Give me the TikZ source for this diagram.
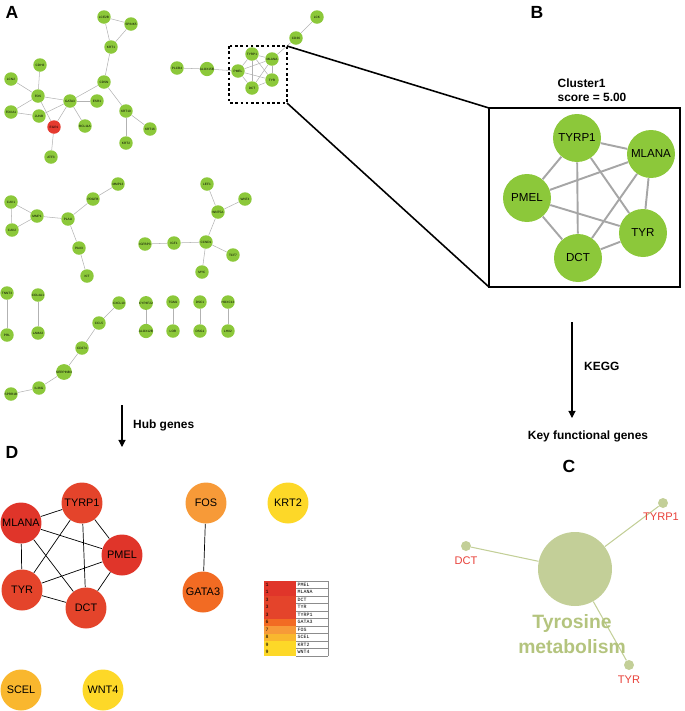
\documentclass[tikz,border=0pt]{standalone}
\usepackage{fontspec}
\setmainfont{Liberation Sans}
\newfontfamily\tabfont{Liberation Mono}
\usetikzlibrary{arrows.meta}

\definecolor{agreen}{HTML}{8CC83A}
\definecolor{anred}{HTML}{E53A2F}
\definecolor{hred}{HTML}{E0352A}
\definecolor{hredb}{HTML}{E4442B}
\definecolor{horange}{HTML}{F26B23}
\definecolor{hlorange}{HTML}{F79A38}
\definecolor{hamber}{HTML}{F9B72E}
\definecolor{hyellow}{HTML}{FDD828}
\definecolor{kegg}{HTML}{C3CF98}
\definecolor{keggtext}{HTML}{B4C47E}
\definecolor{keggred}{HTML}{E8413A}

\tikzset{
  gnode/.style={circle, fill=agreen, inner sep=0pt, minimum size=0.27cm, font=\fontsize{1.8}{2}\selectfont},
  cnode/.style={circle, fill=agreen, inner sep=0pt, minimum size=0.96cm, font=\fontsize{6.6}{8}\selectfont},
  hnode/.style={circle, inner sep=0pt, minimum size=0.82cm, font=\fontsize{6.2}{7}\selectfont},
  gedge/.style={draw=black!30, line width=0.3pt},
  cedge/.style={draw=black!35, line width=1.1pt},
  hedge/.style={draw=black, line width=0.4pt},
  kedge/.style={draw=kegg, line width=0.6pt},
  kdot/.style={circle, fill=kegg, inner sep=0pt, minimum size=0.2cm},
  klabel/.style={text=keggred, font=\fontsize{6.3}{7}\selectfont},
  plabel/.style={font=\fontsize{10}{12}\selectfont\bfseries},
  blabel/.style={font=\fontsize{6.8}{8}\selectfont\bfseries},
  tabtext/.style={inner sep=0.5pt, font=\tabfont\fontsize{2.8}{3}\selectfont},
  flow/.style={line width=0.6pt, -{Triangle[length=4pt,width=4pt]}}
}

\begin{document}
\begin{tikzpicture}[x=0.02cm,y=-0.02cm]
\useasboundingbox (0,0) rectangle (685,711);

% panel letters
\node[plabel] (labA) at (12,12) {A};
\node[plabel] (labB) at (537,12) {B};
\node[plabel] (labC) at (569,466) {C};
\node[plabel] (labD) at (12,452) {D};

% ---------- A: whole network ----------
\foreach \n/\x/\y/\t in {a1/104/17/LCE2B, a2/131/24/SPINK5, a3/111/47/KRT1, a4/104/82/CDSN,
    a5/40/65/CDH3, a6/11/79/LCN2, a7/38/96/FOS, a8/70/101/GATA3, a9/97/101/ESR1,
    a10/11/112/FOXA1, a11/39/116/JUNB, a13/85/126/BCL11A, a14/51/157/ATF3,
    a15/126/111/KRT10, a16/150/129/KRT16, a17/126/143/KRT2,
    b1/177/68/PLCB4, b2/207/69/ALOX15B, b3/296/38/CD36, b4/317/17/LCK,
    d1/11/202/CAV1, d2/12/230/CAV2, d3/37/216/MMP1, d4/68/219/PLAU, d5/93/199/PDGFB,
    d6/118/184/MMP13, d7/79/248/PAX3, d8/87/276/KIT,
    e1/145/244/IGFBP3, e2/174/243/IGF1, e3/206/242/CCND1, e4/218/212/WNT5A,
    e5/207/184/LEF1, e6/245/199/WNT4, e7/233/255/TCF7, e8/202/272/MYC,
    f1/7/293/TNNT3, f2/7/335/PRL, g1/38/295/COL4A1, g2/38/333/LAMA3,
    h1/119/303/CXCL10, h2/99/323/CCL5, h3/82/348/CD274, h4/64/372/SERPINB3,
    h5/39/388/IL36G, h6/11/394/SPRR1B,
    p1/146/303/CYP4F22, p2/146/331/ALOX12B, q1/173/302/TGM1, q2/173/331/LOR,
    r1/200/302/DSC1, r2/200/331/DSG1, s1/228/302/HOXC13, s2/228/331/LHX2}
  \node[gnode] (\n) at (\x,\y) {\t};
\node[gnode, fill=anred] (a12) at (54,127) {EGR1};

% cluster inside A
\node[gnode] (aTYRP1) at (252,54) {TYRP1};
\node[gnode] (aMLANA) at (272,59) {MLANA};
\node[gnode] (aPMEL) at (238,71) {PMEL};
\node[gnode] (aTYR) at (272,80) {TYR};
\node[gnode] (aDCT) at (252,88) {DCT};

\foreach \u/\v in {a1/a2, a1/a3, a2/a3, a3/a4, a5/a7, a6/a7, a7/a10, a10/a11, a7/a8,
    a7/a12, a8/a12, a8/a11, a8/a9, a8/a13, a8/a4, a4/a15, a15/a16, a15/a17, a12/a14,
    b1/b2, b2/aPMEL, b4/b3, b3/aMLANA,
    d1/d2, d1/d3, d2/d3, d3/d4, d4/d5, d5/d6, d4/d7, d7/d8,
    e1/e2, e2/e3, e3/e4, e4/e5, e4/e6, e3/e7, e3/e8,
    f1/f2, g1/g2, h1/h2, h2/h3, h3/h4, h4/h5, h5/h6, p1/p2, q1/q2, r1/r2, s1/s2,
    aTYRP1/aMLANA, aTYRP1/aPMEL, aTYRP1/aTYR, aTYRP1/aDCT, aMLANA/aPMEL,
    aMLANA/aTYR, aMLANA/aDCT, aPMEL/aTYR, aPMEL/aDCT, aTYR/aDCT}
  \draw[gedge] (\u) -- (\v);

% zoom box and its rays
\coordinate (zoomNW) at (229,46);
\coordinate (zoomSE) at (287,103);
\coordinate (zoomNE) at (287,46);
\draw[dashed, line width=0.8pt, dash pattern=on 1.5pt off 1.5pt] (zoomNW) rectangle (zoomSE);
\coordinate (clusNW) at (489,108);
\coordinate (clusSE) at (680,287);
\coordinate (clusSW) at (489,287);
\draw[line width=0.9pt] (clusNW) rectangle (clusSE);
\draw[line width=0.9pt] (zoomNE) -- (clusNW);
\draw[line width=0.9pt] (zoomSE) -- (clusSW);

% ---------- B: cluster 1 ----------
\node[blabel, align=left] (clustitle) at (592,90) {Cluster1\\score = 5.00};
\node[cnode] (bTYRP1) at (577,138) {TYRP1};
\node[cnode] (bMLANA) at (651,154) {MLANA};
\node[cnode] (bPMEL) at (527,198) {PMEL};
\node[cnode] (bTYR) at (643,233) {TYR};
\node[cnode] (bDCT) at (578,258) {DCT};
\foreach \u/\v in {TYRP1/MLANA, TYRP1/PMEL, TYRP1/TYR, TYRP1/DCT, MLANA/PMEL,
    MLANA/TYR, MLANA/DCT, PMEL/TYR, PMEL/DCT, TYR/DCT}
  \draw[cedge] (b\u) -- (b\v);

% ---------- arrows ----------
\coordinate (hubtop) at (122,405);
\coordinate (hubtip) at (122,447);
\draw[flow] (hubtop) -- (hubtip);
\node[blabel, anchor=west] (hubtext) at (127,425) {Hub genes};

\coordinate (keggtop) at (572,322);
\coordinate (keggtip) at (572,418);
\draw[flow] (keggtop) -- (keggtip);
\node[blabel, anchor=west] (keggtext) at (578,366) {KEGG};
\node[blabel] (keytext) at (588,436) {Key functional genes};

% ---------- C: KEGG pathway ----------
\node[circle, fill=kegg, inner sep=0pt, minimum size=1.48cm] (tyrmet) at (575,569) {};
\node[kdot] (cTYRP1) at (663,503) {};
\node[kdot] (cDCT) at (466,546) {};
\node[kdot] (cTYR) at (629,665) {};
\foreach \g in {TYRP1, DCT, TYR}
  \draw[kedge] (tyrmet) -- (c\g);
\node[klabel] (lTYRP1) at (661,517) {TYRP1};
\node[klabel] (lDCT) at (466,561) {DCT};
\node[klabel] (lTYR) at (629,680) {TYR};
\node[text=keggtext, font=\fontsize{11}{14}\selectfont\bfseries, align=center] (tyrtext) at (572,634) {Tyrosine\\metabolism};

% ---------- D: hub genes ----------
\node[hnode, fill=hredb] (dTYRP1) at (82,503) {TYRP1};
\node[hnode, fill=hred] (dMLANA) at (21,523) {MLANA};
\node[hnode, fill=hred] (dPMEL) at (122,555) {PMEL};
\node[hnode, fill=hredb] (dTYR) at (22,590) {TYR};
\node[hnode, fill=hredb] (dDCT) at (86,608) {DCT};
\node[hnode, fill=hlorange] (dFOS) at (206,503) {FOS};
\node[hnode, fill=horange] (dGATA3) at (203,592) {GATA3};
\node[hnode, fill=hyellow] (dKRT2) at (288,503) {KRT2};
\node[hnode, fill=hamber] (dSCEL) at (21,690) {SCEL};
\node[hnode, fill=hyellow] (dWNT4) at (103,690) {WNT4};
\foreach \u/\v in {TYRP1/MLANA, TYRP1/PMEL, TYRP1/TYR, TYRP1/DCT, MLANA/PMEL,
    MLANA/TYR, MLANA/DCT, PMEL/TYR, PMEL/DCT, TYR/DCT, FOS/GATA3}
  \draw[hedge] (d\u) -- (d\v);

% degree table
\foreach \r/\num/\gname/\col in {0/1/PMEL/hred, 1/1/MLANA/hred, 2/3/DCT/hredb, 3/3/TYR/hredb,
    4/3/TYRP1/hredb, 5/6/GATA3/horange, 6/7/FOS/hlorange, 7/8/SCEL/hamber,
    8/9/KRT2/hyellow, 9/9/WNT4/hyellow} {
  \fill[\col] (264,{581+\r*7.5}) rectangle (296,{588.5+\r*7.5});
  \draw[black!45, line width=0.3pt] (296,{588.5+\r*7.5}) -- (328,{588.5+\r*7.5});
  \node[tabtext, anchor=west] at (264.5,{584.75+\r*7.5}) {\num};
  \node[tabtext, anchor=west] at (296.5,{584.75+\r*7.5}) {\gname};
}
\draw[black!45, line width=0.3pt] (296,581) -- (328,581);
\draw[black!45, line width=0.3pt] (328,581) -- (328,656);
\end{tikzpicture}
\end{document}
